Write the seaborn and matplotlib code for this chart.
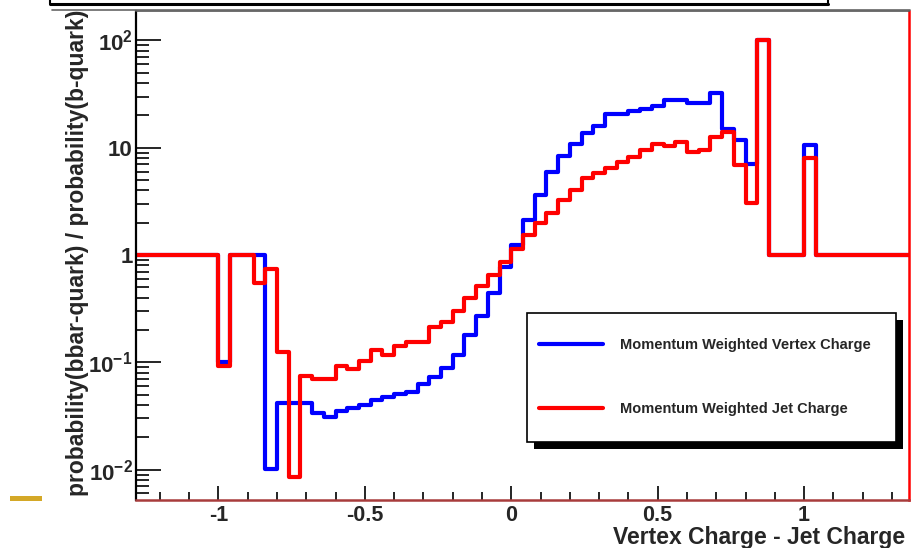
import numpy as np
import pandas as pd
import matplotlib
matplotlib.use("Agg")
import matplotlib.pyplot as plt
import seaborn as sns
from matplotlib.ticker import FixedLocator, NullFormatter, LogLocator, MultipleLocator
from matplotlib.patches import Rectangle
from matplotlib.lines import Line2D

# ---------------- data ----------------
bin_edges = np.round(np.linspace(-1.28, 1.36, 67), 2)

vertex_charge_ratio = [
    1, 1, 1, 1, 1, 1, 1,            # -1.28 .. -1.00
    0.10,                           # -1.00
    1, 1, 1,                        # -0.96 .. -0.88
    0.0101, 0.0415, 0.0415, 0.0415, 0.0334, 0.0311, 0.0355, 0.0372,
    0.0400, 0.0446, 0.0479, 0.0507, 0.0532, 0.0628, 0.0734, 0.0879,
    0.117, 0.180, 0.270, 0.440, 0.778, 1.24, 2.12, 3.62, 5.97, 8.37,
    10.8, 13.6, 15.9, 20.5, 20.5, 22.0, 22.8, 24.5, 27.9, 27.9,
    26.3, 26.3, 32.1, 14.8, 11.8, 7.0,
    101,
    1, 1, 1,
    10.6,
    1, 1, 1, 1, 1, 1, 1, 1,
]

jet_charge_ratio = [
    1, 1, 1, 1, 1, 1, 1,
    0.092,
    1, 1, 0.545,
    0.735, 0.126, 0.0085, 0.075, 0.0705, 0.0696, 0.0924, 0.0859,
    0.102, 0.131, 0.117, 0.143, 0.156, 0.156, 0.213, 0.239,
    0.300, 0.394, 0.515, 0.651, 0.867, 1.15, 1.54, 2.0, 2.48, 3.26,
    4.03, 5.19, 5.77, 6.43, 7.41, 8.25, 9.52, 10.8, 10.4, 11.4,
    9.18, 9.52, 12.7, 14.1, 6.9, 3.07,
    101,
    1, 1, 1,
    8.1,
    1, 1, 1, 1, 1, 1, 1, 1,
]

series_labels = ["Momentum Weighted Vertex Charge", "Momentum Weighted Jet Charge"]
series_colors = ["#0000ff", "#ff0000"]
x_ticks = [-1, -0.5, 0, 0.5, 1]
x_tick_labels = ["-1", "-0.5", "0", "0.5", "1"]
y_ticks = [1e-2, 1e-1, 1, 10, 100]
y_tick_labels = [r"$10^{-2}$", r"$10^{-1}$", "1", "10", r"$10^{2}$"]
x_title = "Vertex Charge - Jet Charge"
y_title = "probability(bbar-quark) / probability(b-quark)"

# ---------------- style ----------------
sns.set_style("ticks")
plt.rcParams["font.family"] = ["Liberation Sans", "DejaVu Sans"]
plt.rcParams["mathtext.fontset"] = "custom"
plt.rcParams["mathtext.rm"] = "Liberation Sans:bold"
plt.rcParams["mathtext.it"] = "Liberation Sans:bold"
plt.rcParams["mathtext.bf"] = "Liberation Sans:bold"

W, H = 912, 548
fig = plt.figure(figsize=(W / 100, H / 100), dpi=100)
fig.patch.set_facecolor("white")
ax = fig.add_axes([135.5 / W, 1 - 500 / H, 774 / W, 489 / H])
ax.set_facecolor("white")

centers = (bin_edges[:-1] + bin_edges[1:]) / 2
for vals, lab, col in zip([vertex_charge_ratio, jet_charge_ratio], series_labels, series_colors):
    df = pd.DataFrame({"charge": centers, "ratio": np.asarray(vals, dtype=float)})
    sns.histplot(data=df, x="charge", weights="ratio", bins=list(bin_edges),
                 element="step", fill=False, color=col, linewidth=3.0, ax=ax, label=lab)

ax.set_yscale("log")
ax.set_xlim(-1.283, 1.36)
ax.set_ylim(10 ** -2.283, 10 ** 2.274)
ax.set_xlabel("")
ax.set_ylabel("")

# ticks
ax.set_xticks(x_ticks)
ax.set_xticklabels(x_tick_labels, fontsize=15.5, fontweight="bold")
ax.xaxis.set_minor_locator(MultipleLocator(0.1))
ax.yaxis.set_major_locator(FixedLocator(y_ticks))
ax.set_yticklabels(y_tick_labels, fontsize=16, fontweight="bold")
ax.yaxis.set_minor_locator(LogLocator(base=10, subs=np.arange(2, 10)))
ax.yaxis.set_minor_formatter(NullFormatter())
ax.tick_params(axis="both", which="both", direction="in", top=False, right=False,
               color="black", width=1.2)
ax.tick_params(axis="x", which="major", length=10, pad=3.5)
ax.tick_params(axis="x", which="minor", length=5.5)
ax.tick_params(axis="y", which="major", length=18, pad=2)
ax.tick_params(axis="y", which="minor", length=9.5)

# spines
ax.spines["left"].set_color("black")
ax.spines["left"].set_linewidth(1.6)
ax.spines["bottom"].set_color("#a83c3c")
ax.spines["bottom"].set_linewidth(1.8)
ax.spines["right"].set_color("#ff0000")
ax.spines["right"].set_linewidth(1.8)
ax.spines["top"].set_color("#555555")
ax.spines["top"].set_linewidth(1.2)
for s in ax.spines.values():
    s.set_visible(True)

# axis titles
fig.text(78 / W, 1 - 253 / H, y_title, rotation=90, ha="center", va="center",
         fontsize=16.5, fontweight="bold")
fig.text(905 / W, 1 - 544 / H, x_title, ha="right", va="baseline",
         fontsize=16.5, fontweight="bold")

# legend: box with solid shadow, entries placed inside
box_x0, box_y0, box_x1, box_y1 = 527, 313, 896, 442   # pixels from top-left
shadow_off = 7
ax.add_artist(Rectangle(((box_x0 + shadow_off) / W, 1 - (box_y1 + shadow_off) / H),
                        (box_x1 - box_x0) / W, (box_y1 - box_y0) / H,
                        transform=fig.transFigure, facecolor="black", edgecolor="none",
                        zorder=5.0, clip_on=False))
ax.add_artist(Rectangle((box_x0 / W, 1 - box_y1 / H),
                        (box_x1 - box_x0) / W, (box_y1 - box_y0) / H,
                        transform=fig.transFigure, facecolor="white", edgecolor="black",
                        linewidth=1.2, zorder=5.1, clip_on=False))
handles, labels = ax.get_legend_handles_labels()
leg = ax.legend(handles, labels, loc="upper left",
                bbox_to_anchor=(539 / W, 1 - 338 / H), bbox_transform=fig.transFigure,
                borderaxespad=0, prop={"weight": "bold", "size": 10.5},
                borderpad=0, labelspacing=3.41, handlelength=4.4, handletextpad=1.15,
                frameon=False)
leg.set_zorder(6)

# remnants of the title box above the frame
fig.add_artist(Line2D([50 / W, 828 / W], [1 - 3.5 / H, 1 - 3.5 / H], color="black", lw=2.2))
fig.add_artist(Line2D([50 / W, 50 / W], [1.0, 1 - 3.5 / H], color="black", lw=1.5))
fig.add_artist(Line2D([828 / W, 828 / W], [1.0, 1 - 3.5 / H], color="black", lw=1.5))
fig.add_artist(Line2D([52 / W, 910 / W], [1 - 10 / H, 1 - 10 / H], color="#666666", lw=1.2))
fig.add_artist(Rectangle((10.5 / W, 1 - 501 / H), 32 / W, 5 / H, transform=fig.transFigure,
                         facecolor="#d4a827", edgecolor="none"))

fig.savefig("out.png", dpi=100, facecolor="white")
